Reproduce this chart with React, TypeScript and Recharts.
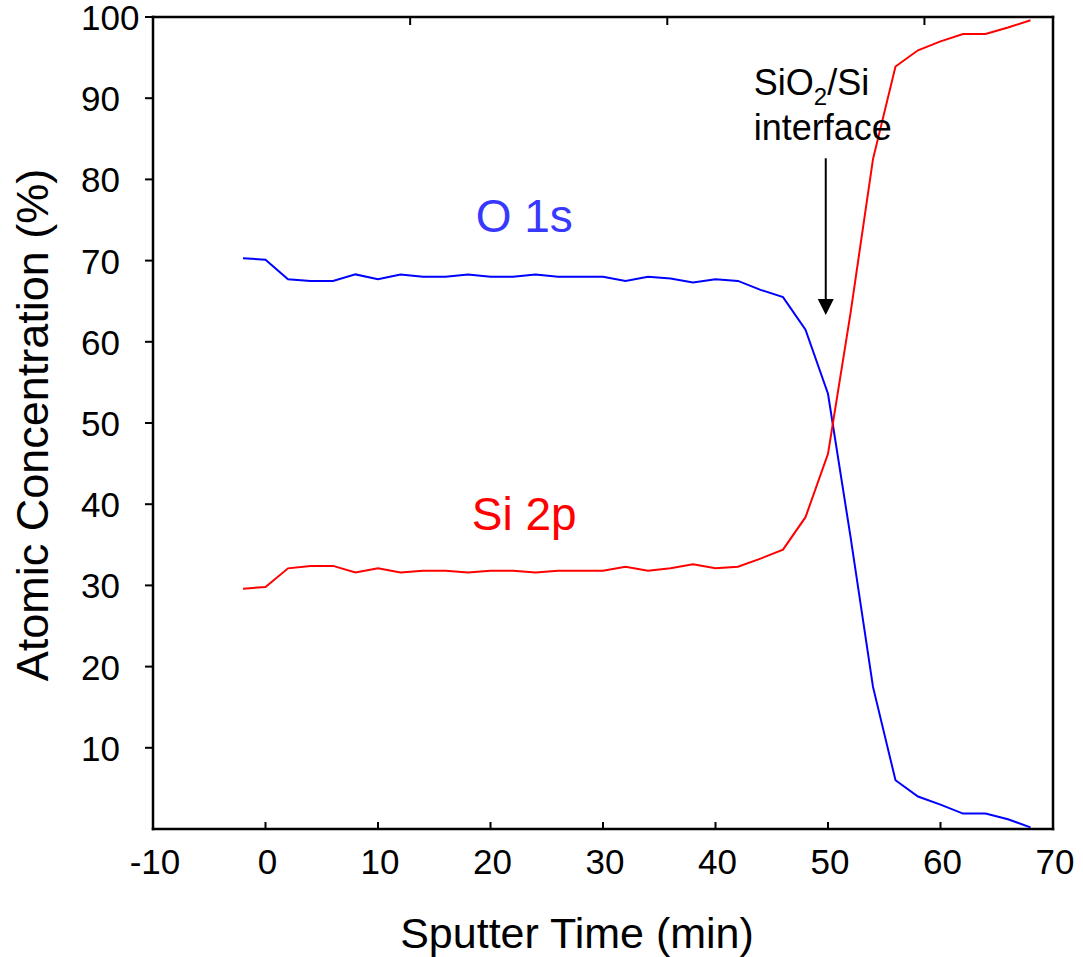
import React from "react";
import {
  LineChart,
  Line,
  XAxis,
  YAxis,
  ReferenceDot,
  ReferenceLine,
  Label,
} from "recharts";

// sputter time (min), one reading every 2 minutes
const sputterTime = [
  -2, 0, 2, 4, 6, 8, 10, 12, 14, 16, 18, 20, 22, 24, 26, 28, 30, 32, 34, 36,
  38, 40, 42, 44, 46, 48, 50, 52, 54, 56, 58, 60, 62, 64, 66, 68,
];

const o1s = [
  70.3, 70.1, 67.7, 67.5, 67.5, 68.3, 67.7, 68.3, 68.0, 68.0, 68.3, 68.0, 68.0,
  68.3, 68.0, 68.0, 68.0, 67.5, 68.0, 67.8, 67.3, 67.7, 67.5, 66.4, 65.5, 61.5,
  53.6, 36.0, 17.5, 6.0, 4.0, 3.0, 1.9, 1.9, 1.2, 0.2,
];

const si2p = [
  29.6, 29.8, 32.1, 32.4, 32.4, 31.6, 32.1, 31.6, 31.8, 31.8, 31.6, 31.8, 31.8,
  31.6, 31.8, 31.8, 31.8, 32.3, 31.8, 32.1, 32.6, 32.1, 32.3, 33.3, 34.4, 38.4,
  46.2, 63.5, 82.5, 93.9, 95.9, 97.0, 97.9, 97.9, 98.7, 99.6,
];

const xTicks = [-10, 0, 10, 20, 30, 40, 50, 60, 70];
const yTicks = [10, 20, 30, 40, 50, 60, 70, 80, 90, 100];

const data = sputterTime.map((t, i) => ({ t, o1s: o1s[i], si2p: si2p[i] }));

const FONT = "'Liberation Sans', Arial, Helvetica, sans-serif";

const BottomTick = (props: any) => {
  const { x, y, payload } = props;
  return (
    <g>
      <line x1={x} x2={x} y1={y} y2={y - 7} stroke="#000" strokeWidth={2} />
      <text x={x + 2} y={y + 45} textAnchor="middle" fontSize={35} fontFamily={FONT} fill="#000">
        {payload.value}
      </text>
    </g>
  );
};

const TopTick = (props: any) => {
  const { x, y } = props;
  return <line x1={x} x2={x} y1={y} y2={y + 8} stroke="#000" strokeWidth={2} />;
};

const LeftTick = (props: any) => {
  const { x, y, payload } = props;
  return (
    <g>
      <line x1={x - 8} x2={x} y1={y} y2={y} stroke="#000" strokeWidth={2} />
      <text x={x - 72} y={y + 13} textAnchor="start" fontSize={35} fontFamily={FONT} fill="#000">
        {payload.value}
      </text>
    </g>
  );
};

const RightTick = (props: any) => {
  const { x, y } = props;
  return <line x1={x} x2={x - 9} y1={y} y2={y} stroke="#000" strokeWidth={2} />;
};

const textAt = (txt: string, color: string, size: number, anchor: string) => (p: any) => (
  <text x={p.cx} y={p.cy} textAnchor={anchor} fontSize={size} fontFamily={FONT} fill={color}>
    {txt}
  </text>
);

const SubLabel = (p: any) => (
  <text x={p.cx} y={p.cy} textAnchor="start" fontSize={36} fontFamily={FONT} fill="#000">
    SiO
    <tspan fontSize={24} dy={10}>2</tspan>
    <tspan dy={-10}>/Si</tspan>
  </text>
);

const ArrowHead = (p: any) => (
  <polygon
    points={`${p.cx},${p.cy} ${p.cx - 8},${p.cy - 16} ${p.cx + 8},${p.cy - 16}`}
    fill="#000"
  />
);

export default function App() {
  return (
    <div style={{ position: "absolute", left: 0, top: 0 }}>
      <LineChart
        width={1083}
        height={957}
        data={data}
        margin={{ top: 0, right: 0, bottom: 0, left: 0 }}
      >
        <XAxis
          dataKey="t"
          type="number"
          domain={[-10, 70]}
          ticks={xTicks}
          interval={0}
          height={128}
          tickSize={0}
          tickMargin={0}
          tick={<BottomTick />}
          axisLine={{ stroke: "#000", strokeWidth: 2.5, strokeLinecap: "square" }}
        >
          <Label
            content={(lp: any) => (
              <text
                x={lp.viewBox.x + 424}
                y={lp.viewBox.y + 119}
                textAnchor="middle"
                fontSize={43}
                fontFamily={FONT}
                fill="#000"
              >
                Sputter Time (min)
              </text>
            )}
          />
        </XAxis>
        <XAxis
          xAxisId="top"
          orientation="top"
          type="number"
          domain={[-10, 70]}
          ticks={xTicks}
          interval={0}
          height={17}
          tickSize={0}
          tickMargin={0}
          tick={<TopTick />}
          axisLine={{ stroke: "#000", strokeWidth: 2.5, strokeLinecap: "square" }}
        />
        <YAxis
          type="number"
          domain={[0, 100]}
          ticks={yTicks}
          interval={0}
          width={153}
          tickSize={0}
          tickMargin={0}
          tick={<LeftTick />}
          axisLine={{ stroke: "#000", strokeWidth: 2.5, strokeLinecap: "square" }}
        >
          <Label
            content={() => (
              <text
                x={48}
                y={425}
                transform="rotate(-90 48 425)"
                textAnchor="middle"
                fontSize={45}
                fontFamily={FONT}
                fill="#000"
              >
                Atomic Concentration (%)
              </text>
            )}
          />
        </YAxis>
        <YAxis
          yAxisId="right"
          orientation="right"
          type="number"
          domain={[0, 100]}
          ticks={yTicks}
          interval={0}
          width={30}
          tickSize={0}
          tickMargin={0}
          tick={<RightTick />}
          axisLine={{ stroke: "#000", strokeWidth: 2.5, strokeLinecap: "square" }}
        />
        <Line
          type="linear"
          dataKey="o1s"
          stroke="#0000ff"
          strokeWidth={2}
          dot={false}
          isAnimationActive={false}
        />
        <Line
          type="linear"
          dataKey="si2p"
          stroke="#ff0000"
          strokeWidth={2}
          dot={false}
          isAnimationActive={false}
        />
        <ReferenceDot x={23} y={73.5} r={0} shape={textAt("O 1s", "#3838ff", 46, "middle")} />
        <ReferenceDot x={23} y={36.8} r={0} shape={textAt("Si 2p", "#ff0000", 46, "middle")} />
        <ReferenceDot x={43.4} y={90.4} r={0} shape={SubLabel} />
        <ReferenceDot x={43.4} y={84.9} r={0} shape={textAt("interface", "#000", 36, "start")} />
        <ReferenceLine
          segment={[
            { x: 49.8, y: 82.6 },
            { x: 49.8, y: 65 },
          ]}
          stroke="#000"
          strokeWidth={2}
        />
        <ReferenceDot x={49.8} y={63.3} r={0} shape={ArrowHead} />
      </LineChart>
    </div>
  );
}
